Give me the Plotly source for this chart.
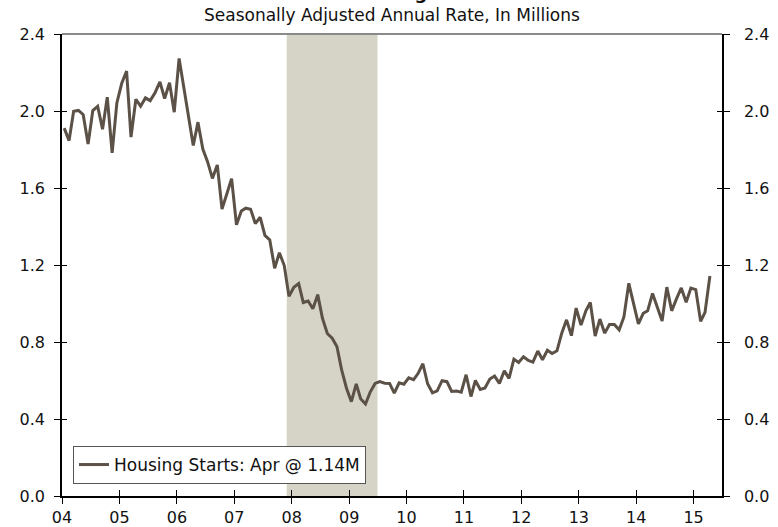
import pandas as pd
import plotly.graph_objects as go

# ---------------- data ----------------
start_month = "2004-01-01"
end_month = "2015-04-01"
# Housing starts, SAAR, millions (monthly)
starts_2004 = [1.911, 1.846, 1.998, 2.003, 1.981, 1.828, 2.002, 2.024, 1.905, 2.072, 1.782, 2.042]
starts_2005 = [2.144, 2.207, 1.864, 2.061, 2.025, 2.068, 2.054, 2.095, 2.151, 2.065, 2.147, 1.994]
starts_2006 = [2.273, 2.119, 1.969, 1.821, 1.942, 1.802, 1.737, 1.650, 1.720, 1.491, 1.570, 1.649]
starts_2007 = [1.409, 1.480, 1.495, 1.490, 1.415, 1.448, 1.354, 1.330, 1.183, 1.264, 1.197, 1.037]
starts_2008 = [1.084, 1.103, 1.005, 1.013, 0.973, 1.046, 0.923, 0.844, 0.820, 0.777, 0.652, 0.560]
starts_2009 = [0.490, 0.582, 0.505, 0.478, 0.540, 0.585, 0.594, 0.586, 0.585, 0.534, 0.588, 0.581]
starts_2010 = [0.614, 0.604, 0.636, 0.687, 0.583, 0.536, 0.546, 0.599, 0.594, 0.543, 0.545, 0.539]
starts_2011 = [0.630, 0.517, 0.600, 0.554, 0.561, 0.608, 0.623, 0.585, 0.650, 0.611, 0.711, 0.694]
starts_2012 = [0.723, 0.704, 0.695, 0.753, 0.708, 0.757, 0.740, 0.754, 0.847, 0.915, 0.833, 0.976]
starts_2013 = [0.888, 0.962, 1.005, 0.831, 0.919, 0.846, 0.891, 0.891, 0.863, 0.930, 1.105, 1.003]
starts_2014 = [0.894, 0.949, 0.962, 1.052, 0.985, 0.909, 1.085, 0.962, 1.025, 1.081, 1.007, 1.080]
starts_2015 = [1.072, 0.908, 0.954, 1.143]

housing_starts = (starts_2004 + starts_2005 + starts_2006 + starts_2007 + starts_2008 +
                  starts_2009 + starts_2010 + starts_2011 + starts_2012 + starts_2013 +
                  starts_2014 + starts_2015)

year_ticks = [f"{y}-01-01" for y in range(2004, 2016)]
y_ticks = [0.0, 0.4, 0.8, 1.2, 1.6, 2.0, 2.4]
recession_start = "2007-12-01"
recession_end = "2009-06-30"
x_range = ["2004-01-01", "2015-07-01"]

title_text = "Total Housing Starts"
subtitle_text = "Seasonally Adjusted Annual Rate, In Millions"
legend_label = "Housing Starts: Apr @ 1.14M"

dates = pd.date_range(start_month, end_month, freq="MS") + pd.Timedelta(days=14)

# ---------------- figure ----------------
FONT = "DejaVu Sans"
LINE_COLOR = "#5b5147"
TXT = "#111111"

fig = go.Figure()
fig.add_trace(go.Scatter(
    x=dates, y=housing_starts, mode="lines", name=legend_label,
    line=dict(color=LINE_COLOR, width=3),
))

fig.add_vrect(x0=recession_start, x1=recession_end, fillcolor="#d6d3c7",
              opacity=1, line_width=0, layer="below")

common_y = dict(range=[0, 2.4], tickvals=y_ticks, tickformat=".1f",
                showgrid=False, zeroline=False, fixedrange=True, automargin=False)

fig.update_layout(
    width=778, height=527,
    margin=dict(l=62, r=56, t=34, b=31),
    paper_bgcolor="white", plot_bgcolor="white",
    font=dict(family=FONT, size=16, color=TXT),
    showlegend=True,
    legend=dict(x=0.0167, y=0.026, xanchor="left", yanchor="bottom",
                bordercolor="#555555", borderwidth=1, bgcolor="white",
                font=dict(family=FONT, size=17, color=TXT), itemwidth=30),
    xaxis=dict(type="date", range=x_range, tickvals=year_ticks, tickformat="%y",
               ticks="outside", ticklen=6, tickcolor="black", tickwidth=1,
               showline=True, linecolor="black", linewidth=1.5,
               showgrid=False, zeroline=False, automargin=False),
    xaxis2=dict(type="date", range=x_range, tickvals=year_ticks, overlaying="x",
                matches="x", anchor="y", side="bottom", ticks="inside", ticklen=6,
                tickcolor="black", showticklabels=False, showline=False,
                showgrid=False, zeroline=False, automargin=False),
    yaxis=dict(**common_y, side="left", ticks="outside", ticklen=6, tickcolor="black",
               showline=True, linecolor="black", linewidth=1.5, ticklabelstandoff=6),
    yaxis2=dict(**common_y, side="right", overlaying="y", anchor="x", ticks="outside",
                ticklen=6, tickcolor="black", showline=True, linecolor="black",
                linewidth=1.5, ticklabelstandoff=11),
    yaxis3=dict(**common_y, side="left", overlaying="y", anchor="x", ticks="inside",
                ticklen=5, tickcolor="black", showticklabels=False, showline=False),
    yaxis4=dict(**common_y, side="right", overlaying="y", anchor="x", ticks="inside",
                ticklen=5, tickcolor="black", showticklabels=False, showline=False),
)

# helper traces so overlay axes are drawn (invisible)
for ya in ["y2", "y3", "y4"]:
    fig.add_trace(go.Scatter(x=dates, y=housing_starts, mode="lines", yaxis=ya,
                             line=dict(width=0, color="rgba(0,0,0,0)"),
                             showlegend=False, hoverinfo="skip"))
fig.add_trace(go.Scatter(x=dates, y=housing_starts, mode="lines", xaxis="x2",
                         line=dict(width=0, color="rgba(0,0,0,0)"),
                         showlegend=False, hoverinfo="skip"))

# top border
fig.add_shape(type="line", xref="paper", yref="paper", x0=0, x1=1, y0=1, y1=1,
              line=dict(color="#8a8a8a", width=2))

# title (mostly cut off at top, as in the reference) and subtitle
fig.add_annotation(text=f"<b>{title_text}</b>", xref="paper", yref="paper",
                   x=0.5, y=(496 - 5) / 462, xanchor="center", yanchor="bottom",
                   showarrow=False, font=dict(family=FONT, size=18, color=TXT))
fig.add_annotation(text=subtitle_text, xref="paper", yref="paper",
                   x=0.5, y=(496 - 27) / 462, xanchor="center", yanchor="bottom",
                   showarrow=False, font=dict(family=FONT, size=17, color=TXT))

fig.write_html("out.html", config={"displayModeBar": False},
               post_script="document.body.style.margin='0';")
